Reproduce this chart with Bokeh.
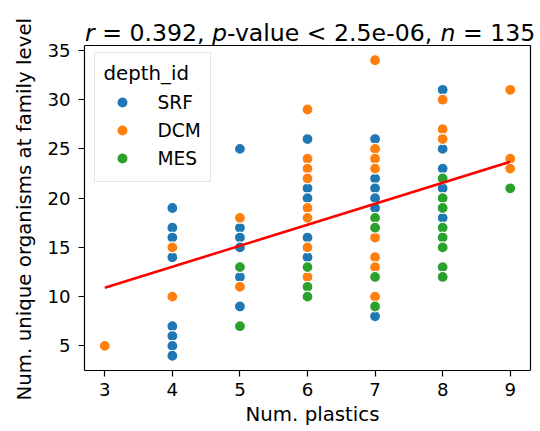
from bokeh.plotting import figure
from bokeh.models import Range1d, Label, FixedTicker, Title
from bokeh.embed import file_html
from bokeh.resources import INLINE

FONT = "DejaVu Sans"

# ---- data ----
srf_x = [4, 4, 4, 4, 4, 4, 4, 4, 5, 5, 5, 5, 5, 5, 6, 6, 6, 6, 6, 7, 7, 7, 7, 7, 7, 8, 8, 8, 8, 8]
srf_y = [19, 17, 16, 14, 7, 6, 5, 4, 25, 17, 16, 15, 12, 9, 26, 21, 20, 16, 14, 26, 22, 21, 20, 19, 8, 31, 25, 23, 21, 18]

dcm_x = [3, 4, 4, 5, 5, 6, 6, 6, 6, 6, 6, 6, 6, 7, 7, 7, 7, 7, 7, 7, 7, 8, 8, 8, 9, 9, 9]
dcm_y = [5, 15, 10, 18, 11, 29, 24, 23, 22, 19, 18, 15, 12, 34, 25, 24, 23, 16, 14, 13, 10, 30, 27, 26, 31, 24, 23]

mes_x = [5, 5, 6, 6, 6, 7, 7, 7, 7, 8, 8, 8, 8, 8, 8, 8, 8, 9]
mes_y = [13, 7, 13, 11, 10, 18, 17, 12, 9, 22, 20, 19, 17, 16, 15, 13, 12, 21]

fit_x = [3, 9]
fit_y = [10.9, 23.7]

x_ticks = [3, 4, 5, 6, 7, 8, 9]
y_ticks = [5, 10, 15, 20, 25, 30, 35]

title_pieces = ["r", "= 0.392,", "p", "-value < 2.5e-06,", "n", "= 135"]
title_styles = ["italic", "normal", "italic", "normal", "italic", "normal"]

x_label = "Num. plastics"
y_label = "Num. unique organisms at family level"

TICK_FS = "18.15px"
LABEL_FS = "19.8px"
TITLE_FS = "23.6px"

# ---- visible axes box ----
X0, X1 = 2.7, 9.3
Y0, Y1 = 2.5, 35.5

W, H = 540, 431
LEFT, BOTTOM = 84, 61
BOX_RIGHT_PX = 530      # right edge of the visible box
BOX_TOP_PX = 45         # top edge of the visible box
YLABEL_BOTTOM_PX = 400  # where the rotated y label starts

frame_h = H - BOTTOM
ppx = (BOX_RIGHT_PX - LEFT) / (X1 - X0)
ppy = (frame_h - BOX_TOP_PX) / (Y1 - Y0)
x_end = X1 + (W - BOX_RIGHT_PX) / ppx
y_end = Y1 + BOX_TOP_PX / ppy

p = figure(width=W, height=H, output_backend="svg", toolbar_location=None,
           x_range=Range1d(X0, x_end), y_range=Range1d(Y0, y_end),
           min_border_left=LEFT, min_border_right=0,
           min_border_top=0, min_border_bottom=BOTTOM)
p.background_fill_color = "white"
p.border_fill_color = "white"
p.outline_line_color = None
p.xgrid.visible = False
p.ygrid.visible = False

for ax in (p.xaxis, p.yaxis):
    ax.axis_line_color = "black"
    ax.axis_line_width = 1.2
    ax.major_tick_line_color = "black"
    ax.major_tick_line_width = 1.2
    ax.major_tick_out = 6
    ax.major_tick_in = 0
    ax.minor_tick_line_color = None
    ax.major_label_text_font = FONT
    ax.major_label_text_font_size = TICK_FS
    ax.major_label_text_color = "black"
    ax.axis_label_text_font = FONT
    ax.axis_label_text_font_size = LABEL_FS
    ax.axis_label_text_font_style = "normal"
    ax.axis_label_text_color = "black"

p.xaxis.bounds = (X0, X1)
p.yaxis.bounds = (Y0, Y1)
p.xaxis.ticker = FixedTicker(ticks=x_ticks)
p.yaxis.ticker = FixedTicker(ticks=y_ticks)
p.xaxis.axis_label = x_label
p.xaxis.major_label_standoff = 6
p.yaxis.major_label_standoff = 8
p.xaxis.axis_label_standoff = 4

# y-axis label as a side title, placed along the visible box
p.add_layout(Title(text=y_label, align="left", offset=frame_h - YLABEL_BOTTOM_PX,
                   text_font=FONT, text_font_size=LABEL_FS,
                   text_font_style="normal", text_color="black",
                   standoff=18), "left")

common = dict(size=11, line_color="white", line_width=1.2)
p.scatter(srf_x, srf_y, fill_color="#1f77b4", legend_label="SRF", **common)
p.scatter(dcm_x, dcm_y, fill_color="#ff7f0e", legend_label="DCM", **common)
p.scatter(mes_x, mes_y, fill_color="#2ca02c", legend_label="MES", **common)

p.line(fit_x, fit_y, line_color="red", line_width=2.6)

# top and right edges of the axes box
p.line([X0, X1, X1], [Y1, Y1, Y0], line_color="black", line_width=1.2)

lg = p.legend[0]
lg.title = "depth_id"
lg.title_text_font = FONT
lg.title_text_font_size = LABEL_FS
lg.title_text_font_style = "normal"
lg.title_text_color = "black"
lg.title_standoff = 3
lg.location = (9.5, 188)
lg.padding = 9
lg.spacing = 0
lg.glyph_width = 36
lg.glyph_height = 28
lg.label_height = 20
lg.label_standoff = 18
lg.label_text_font = FONT
lg.label_text_font_size = "18.6px"
lg.label_text_color = "black"
lg.border_line_color = "#cccccc"
lg.border_line_width = 1
lg.background_fill_color = "white"
lg.background_fill_alpha = 0.8

# ---- title made of pieces (italic r, p, n) ----
piece_px = [84.5, 101.7, 211.5, 226.5, 439.9, 462.4]   # left edge of each piece, canvas px
for txt, style, px in zip(title_pieces, title_styles, piece_px):
    p.add_layout(Label(x=X0 + (px - LEFT) / ppx, y=Y1, y_offset=13, text=txt,
                       text_font=FONT, text_font_size=TITLE_FS,
                       text_font_style=style, text_color="black",
                       text_baseline="alphabetic", text_align="left"))

open("out.html", "w").write(file_html(p, INLINE))
